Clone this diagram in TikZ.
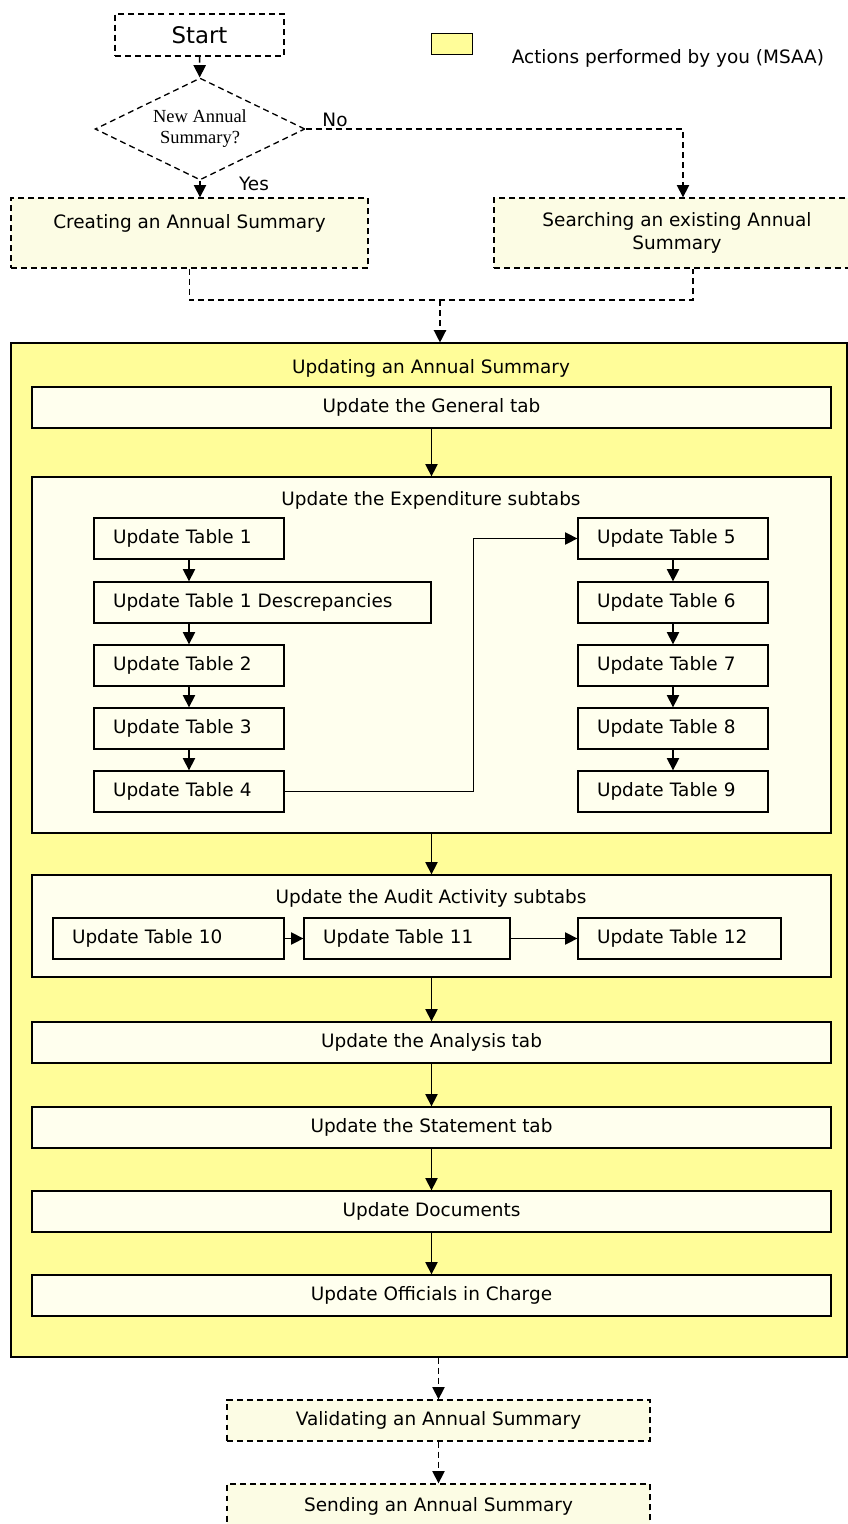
\documentclass[tikz,border=0pt]{standalone}
\usepackage{fontspec}
\setmainfont{DejaVu Sans}
\newfontfamily\diafont{Liberation Serif}
\usetikzlibrary{shapes.geometric,arrows.meta}
\definecolor{actyellow}{HTML}{FFFD99}
\definecolor{palebox}{HTML}{FFFFEE}
\definecolor{dashbox}{HTML}{FCFCE4}

\begin{document}
\begin{tikzpicture}[x=0.02cm,y=-0.02cm,line width=0.75pt,
  arr/.style={-{Triangle[width=7pt,length=7pt]}},
  dashln/.style={dash pattern=on 3.4pt off 2.3pt},
  dbox/.style={draw,dashln,fill=dashbox,minimum height=0.82cm,inner sep=2pt,align=center},
  box/.style={draw,fill=palebox,minimum height=0.82cm,inner ysep=2pt},
  tbl/.style={box,text width=#1,align=left,inner xsep=0.38cm},
  wide/.style={box,minimum width=15.98cm}]
\fontsize{10.5}{13}\selectfont
\useasboundingbox (0,0) rectangle (848,1524);
\clip (0,0) rectangle (848,1524);

% start and choice
\node[dbox,fill=white,minimum width=3.38cm,minimum height=0.84cm,font=\fontsize{13}{15}\selectfont] (start) at (199.5,35) {Start};
\node[draw,dashln,fill=white,shape=diamond,aspect=2.06,minimum width=4.2cm,minimum height=2.04cm,inner sep=0pt,align=center,font=\diafont\fontsize{10.5}{12}\selectfont] (new) at (200,129) {New Annual\\Summary?};
\node (no) at (335,120) {No};
\node (yes) at (254,184) {Yes};
\node[dbox,minimum width=7.14cm,minimum height=1.4cm] (create) at (189.5,233) {Creating an Annual Summary\\\mbox{}};
\node[dbox,minimum width=7.32cm,minimum height=1.4cm] (search) at (677,233) {Searching an existing Annual\\Summary};

% legend
\node[draw,fill=actyellow,minimum width=0.82cm,minimum height=0.42cm,inner sep=0pt] (key) at (452,44) {};
\node[anchor=west] (keytext) at (505,58) {Actions performed by you (MSAA)};

\draw[dashln,arr] (start) -- (new);
\draw[dashln,arr] (new.south) -- (new.south |- create.north);
\draw[dashln,arr] (new.east) -| ([xshift=0.12cm]search.north);
\coordinate (join) at (440,300);
\draw[dashln] (create.south) |- (join) -| ([xshift=0.32cm]search.south);

% updating an annual summary
\node[draw,fill=actyellow,minimum width=16.72cm,minimum height=20.28cm] (upd) at (429,850) {};
\node (updtitle) at (431,368) {Updating an Annual Summary};
\draw[dashln,arr] (join) -- (join |- upd.north);
\node[wide] (general) at (431.5,407.5) {Update the General tab};

\node[box,minimum width=15.98cm,minimum height=7.12cm] (exp) at (431.5,655) {};
\node (exptitle) at (431,500) {Update the Expenditure subtabs};
\node[tbl=3.04cm] (t1) at (189,538.5) {Update Table 1};
\node[tbl=5.98cm] (t1d) at (262.5,602.5) {Update Table 1 Descrepancies};
\node[tbl=3.04cm] (t2) at (189,665.5) {Update Table 2};
\node[tbl=3.04cm] (t3) at (189,728.5) {Update Table 3};
\node[tbl=3.04cm] (t4) at (189,791.5) {Update Table 4};
\node[tbl=3.04cm] (t5) at (673,538.5) {Update Table 5};
\node[tbl=3.04cm] (t6) at (673,602.5) {Update Table 6};
\node[tbl=3.04cm] (t7) at (673,665.5) {Update Table 7};
\node[tbl=3.04cm] (t8) at (673,728.5) {Update Table 8};
\node[tbl=3.04cm] (t9) at (673,791.5) {Update Table 9};
\draw[arr] (t1.south) -- (t1.south |- t1d.north);
\draw[arr] (t2.north |- t1d.south) -- (t2.north);
\draw[arr] (t2) -- (t3);
\draw[arr] (t3) -- (t4);
\draw[arr] (t4.east) -- ++(189,0) |- (t5.west);
\draw[arr] (t5) -- (t6);
\draw[arr] (t6) -- (t7);
\draw[arr] (t7) -- (t8);
\draw[arr] (t8) -- (t9);

\node[box,minimum width=15.98cm,minimum height=2.04cm] (audit) at (431.5,926) {};
\node (audtitle) at (431,898) {Update the Audit Activity subtabs};
\node[tbl=3.86cm] (t10) at (168.5,938.5) {Update Table 10};
\node[tbl=3.36cm] (t11) at (407,938.5) {Update Table 11};
\node[tbl=3.30cm] (t12) at (679.5,938.5) {Update Table 12};
\draw[arr] (t10) -- (t11);
\draw[arr] (t11) -- (t12);

\node[wide] (analysis) at (431.5,1042.5) {Update the Analysis tab};
\node[wide] (statement) at (431.5,1127.5) {Update the Statement tab};
\node[wide] (docs) at (431.5,1211.5) {Update Documents};
\node[wide] (officials) at (431.5,1295.5) {Update Officials in Charge};
\draw[arr] (general) -- (exp);
\draw[arr] (exp) -- (audit);
\draw[arr] (audit) -- (analysis);
\draw[arr] (analysis) -- (statement);
\draw[arr] (statement) -- (docs);
\draw[arr] (docs) -- (officials);

% after the update
\node[dbox,minimum width=8.46cm] (valid) at (438.5,1420.5) {Validating an Annual Summary};
\node[dbox,minimum width=8.46cm,minimum height=0.88cm] (send) at (438.5,1506) {Sending an Annual Summary};
\draw[dashln,arr] (valid.north |- upd.south) -- (valid.north);
\draw[dashln,arr] (valid) -- (send);
\end{tikzpicture}
\end{document}
